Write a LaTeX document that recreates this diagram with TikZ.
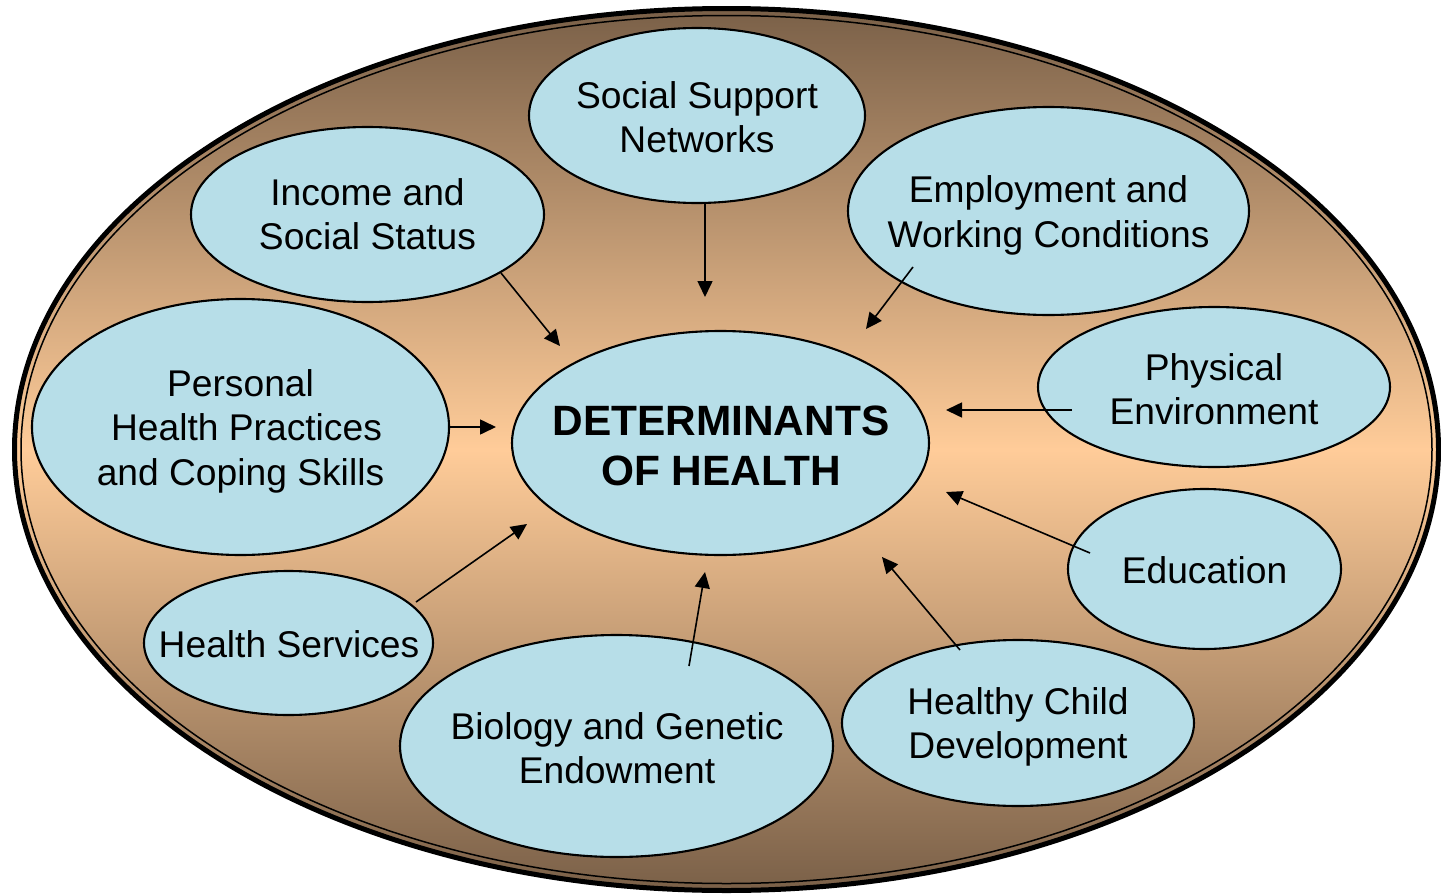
\documentclass[tikz,border=0pt]{standalone}
\usepackage{fontspec}
\setmainfont{Liberation Sans}
\usetikzlibrary{shapes.geometric}
\usetikzlibrary{arrows.meta}
\definecolor{skyblue}{RGB}{183,222,232}
\definecolor{peach}{RGB}{255,204,153}
\definecolor{darkbrown}{RGB}{122,96,72}

\begin{document}
\begin{tikzpicture}[x=0.5pt,y=-0.5pt,
  bubble/.style={ellipse,draw=black,line width=1.05pt,fill=skyblue,inner sep=0pt},
  lbl/.style={align=center,font=\fontsize{18.6}{22.2}\selectfont},
  arr/.style={line width=0.8pt,-{Triangle[length=8pt,width=7.5pt]}}]
\useasboundingbox (0,0) rectangle (1441,894);
% outer frame
\shade[top color=darkbrown,bottom color=darkbrown,middle color=peach] (726.5,449.5) ellipse (712 and 441);
\draw[line width=2.5pt] (726.5,449.5) ellipse (712 and 441);
\draw[line width=0.75pt] (726.5,449.5) ellipse (705.5 and 434);
% the determinants
\node[bubble,minimum width=168pt,minimum height=87.5pt] (ss) at (697,115.5) {};
\node[lbl] (ss-t) at (697,117) {Social Support\\Networks};
\node[bubble,minimum width=176.5pt,minimum height=87.5pt] (inc) at (367.5,214.5) {};
\node[lbl] (inc-t) at (inc) {Income and\\Social Status};
\node[bubble,minimum width=200.5pt,minimum height=104pt] (emp) at (1048.5,211) {};
\node[lbl] (emp-t) at (1048.5,215.5) {Employment and\\Working Conditions};
\node[bubble,minimum width=208.5pt,minimum height=128pt] (php) at (240.5,427) {};
\node[lbl] (php-t) at (240.5,431) {Personal\\\hspace*{6pt}Health Practices\\and Coping Skills};
\node[bubble,minimum width=176pt,minimum height=80pt] (env) at (1214,387) {};
\node[lbl] (env-t) at (1214,389) {Physical\\Environment};
\node[bubble,minimum width=136.5pt,minimum height=80pt] (edu) at (1204.5,569) {};
\node[lbl] (edu-t) at (1204.5,570) {Education};
\node[bubble,minimum width=144.5pt,minimum height=72pt] (hs) at (288.5,643) {};
\node[lbl] (hs-t) at (289,644) {Health Services};
\node[bubble,minimum width=216.5pt,minimum height=111pt] (bio) at (616.5,746) {};
\node[lbl] (bio-t) at (617,748) {Biology and Genetic\\Endowment};
\node[bubble,minimum width=176pt,minimum height=83pt] (hcd) at (1018,723) {};
\node[lbl] (hcd-t) at (1018,727) {Healthy Child\\Development};
% centre
\node[bubble,minimum width=208.5pt,minimum height=112pt] (doh) at (720.5,443) {};
\node[lbl,font=\bfseries\fontsize{21.2}{25}\selectfont] (doh-t) at (721,446) {DETERMINANTS\\OF HEALTH};
% arrow ends
\coordinate (ss-a) at (705,203);   \coordinate (ss-b) at (705,297);
\coordinate (inc-a) at (501,273);  \coordinate (inc-b) at (560,346);
\coordinate (emp-a) at (913,267);  \coordinate (emp-b) at (866,329);
\coordinate (php-a) at (449,427);  \coordinate (php-b) at (496,427);
\coordinate (env-a) at (1072,410); \coordinate (env-b) at (946,410);
\coordinate (edu-a) at (1090,553); \coordinate (edu-b) at (946,492);
\coordinate (hcd-a) at (960,650);  \coordinate (hcd-b) at (882,557);
\coordinate (bio-a) at (689,666);  \coordinate (bio-b) at (705,572);
\coordinate (hs-a) at (416,602);   \coordinate (hs-b) at (527,524);
\foreach \n in {ss,inc,emp,php,env,edu,hcd,bio,hs}
  \draw[arr] (\n-a) -- (\n-b);
\end{tikzpicture}
\end{document}
